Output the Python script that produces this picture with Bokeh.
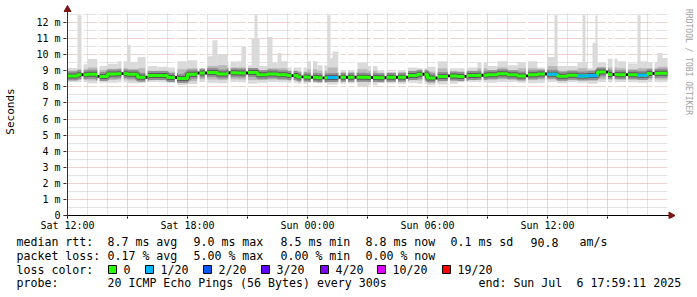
import math
from bokeh.plotting import figure
from bokeh.layouts import column, row
from bokeh.models import Range1d, FixedTicker, ColumnDataSource
from bokeh.core.properties import value
from bokeh.embed import file_html
from bokeh.resources import INLINE

# ---------------- data (hours since Sat 12:00, values in ms) ----------------
bin_hours = 0.5
median = [8.68, 8.75, 8.78, 8.65, 8.80, 8.82, 8.78, 8.60, 8.70, 8.70,
          8.58, 8.52, 8.78, 8.86, 8.90, 8.80, 8.88, 8.86, 8.90, 8.75,
          8.80, 8.75, 8.70, 8.62, 8.60, 8.56, 8.58, 8.60, 8.60, 8.60,
          8.58, 8.57, 8.60, 8.60, 8.70, 8.78, 8.55, 8.65, 8.68, 8.65,
          8.70, 8.72, 8.75, 8.82, 8.75, 8.68, 8.75, 8.80, 8.78, 8.66,
          8.72, 8.68, 8.70, 8.92, 8.77, 8.76, 8.76, 8.72, 8.83, 8.85]
loss = [0, 0, 0, 0, 0, 0, 0, 0, 0, 0,
        0, 0, 0, 0, 0, 0, 0, 0, 0, 0,
        0, 0, 0, 0, 0, 0, 1, 0, 0, 0,
        0, 0, 0, 0, 0, 0, 0, 0, 0, 0,
        0, 0, 0, 0, 0, 0, 0, 0, 1, 0,
        0, 1, 1, 0, 0, 0, 0, 1, 0, 0]
smoke_lo = [8.28, 8.30, 8.22, 8.25, 8.25, 8.28, 8.22, 8.25, 8.30, 8.28,
            8.25, 8.12, 8.18, 8.30, 8.25, 8.22, 8.30, 8.28, 8.20, 8.25,
            8.30, 8.28, 8.25, 8.20, 8.25, 8.22, 8.15, 8.20, 8.22, 8.05,
            8.10, 8.25, 8.22, 8.20, 8.25, 8.20, 8.10, 8.15, 8.20, 8.28,
            8.30, 8.28, 8.25, 8.30, 8.30, 8.25, 8.22, 8.25, 8.30, 8.22,
            8.30, 8.25, 8.20, 8.30, 8.28, 8.30, 8.28, 8.25, 8.30, 8.28]
smoke_q1 = [8.42, 8.45, 8.40, 8.40, 8.42, 8.45, 8.40, 8.38, 8.45, 8.42,
            8.40, 8.30, 8.35, 8.48, 8.45, 8.42, 8.48, 8.45, 8.42, 8.42,
            8.45, 8.42, 8.40, 8.38, 8.38, 8.36, 8.35, 8.38, 8.38, 8.30,
            8.32, 8.38, 8.38, 8.38, 8.42, 8.40, 8.32, 8.35, 8.40, 8.42,
            8.45, 8.45, 8.45, 8.48, 8.45, 8.42, 8.42, 8.45, 8.45, 8.40,
            8.45, 8.42, 8.38, 8.48, 8.45, 8.45, 8.45, 8.42, 8.48, 8.46]
smoke_q3 = [9.02, 9.10, 9.20, 9.05, 9.12, 9.15, 9.10, 9.15, 9.00, 9.00,
            8.95, 9.10, 9.15, 9.05, 9.30, 9.35, 9.20, 9.20, 9.15, 9.05,
            9.15, 9.15, 9.00, 8.95, 9.10, 9.00, 9.20, 8.90, 8.90, 9.10,
            9.00, 8.88, 8.85, 8.90, 9.00, 9.00, 8.95, 9.15, 8.95, 8.95,
            9.00, 9.15, 9.05, 9.20, 9.05, 9.15, 9.15, 9.05, 9.30, 9.00,
            9.05, 9.15, 9.05, 9.20, 9.20, 9.15, 9.10, 9.15, 9.15, 9.25]
smoke_hi = [9.18, 9.40, 9.74, 9.30, 9.43, 9.60, 9.55, 9.85, 9.30, 9.25,
            9.20, 9.60, 9.65, 9.10, 9.90, 10.05, 9.57, 9.60, 9.35, 9.30,
            9.50, 9.60, 9.20, 9.20, 9.60, 9.35, 9.80, 9.05, 9.05, 9.50,
            9.30, 9.05, 8.95, 9.05, 9.20, 9.15, 9.25, 9.60, 9.15, 9.15,
            9.20, 9.50, 9.30, 9.60, 9.35, 9.55, 9.60, 9.20, 9.85, 9.30,
            9.30, 9.55, 9.15, 9.50, 9.75, 9.60, 9.45, 9.60, 9.55, 9.80]
spike_start = [0.50, 3.00, 7.25, 8.70, 9.20, 9.35, 10.00, 10.50, 13.00, 13.25,
               24.35, 25.75, 26.25, 26.40, 28.50, 29.50]
spike_end = [0.75, 3.15, 7.50, 8.95, 9.60, 9.50, 10.25, 10.70, 13.15, 13.55,
             24.50, 25.90, 26.50, 26.50, 28.65, 29.75]
spike_top = [12.45, 10.60, 10.90, 10.50, 11.00, 12.45, 11.10, 10.10, 12.45, 10.20,
             12.45, 12.45, 10.75, 12.45, 12.45, 10.10]
gap_hours = [0.75, 1.55, 2.75, 3.95, 5.42, 6.55, 6.92, 8.10, 8.97, 11.25,
             11.75, 12.22, 12.80, 13.60, 13.97, 14.40, 15.22, 15.90, 16.47, 16.97,
             17.80, 18.45, 19.07, 19.90, 20.75, 22.97, 23.92, 26.97, 27.30, 27.97, 29.30]

x_major_hours = [0, 3, 6, 9, 12, 15, 18, 21, 24, 27]
x_tick_labels = {0: "Sat 12:00", 6: "Sat 18:00", 12: "Sun 00:00",
                 18: "Sun 06:00", 24: "Sun 12:00"}
x_minor_hours = [h for h in range(30) if h % 3 != 0]
y_ticks = [0, 1, 2, 3, 4, 5, 6, 7, 8, 9, 10, 11, 12]
y_tick_labels = ["0", "1 m", "2 m", "3 m", "4 m", "5 m", "6 m", "7 m",
                 "8 m", "9 m", "10 m", "11 m", "12 m"]
loss_levels = [0, 1, 2, 3, 4, 10, 19]
loss_names = ["0", "1/20", "2/20", "3/20", "4/20", "10/20", "19/20"]
loss_colors = ["#26ff00", "#00b8ff", "#0059ff", "#5e00ff", "#7e00ff", "#dd00ff", "#ff0000"]
stats_rtt = ["8.7 ms avg", "9.0 ms max", "8.5 ms min", "8.8 ms now", "0.1 ms sd", "90.8", "am/s"]
stats_loss = ["0.17 % avg", "5.00 % max", "0.00 % min", "0.00 % now"]
probe_text = "20 ICMP Echo Pings (56 Bytes) every 300s"
end_text_a = "end: Sun Jul"
end_text_b = "6 17:59:11 2025"
credit_text = "RRDTOOL / TOBI OETIKER"

# ---------------- layout constants (pixels) ----------------
W, H = 697, 297
CHART_W, CHART_H = 677, 235
GL, GR, GT, GB = 67, 667, 13, 215        # graph area (RRD canvas)
FL, FR, FT, FB = 63, 675, 4, 218         # bokeh frame (room for axes + arrows)
PX_PER_H = 20.0
PX_PER_M = 16.08
FONT = "DejaVu Sans Mono"
AXIS_COL = "#4a2a2a"
ARROW_COL = "#7f1414"


def hx(px):
    return (px - GL) / PX_PER_H


def vy(py):
    return (GB - py) / PX_PER_M


X_END = hx(GR)
Y_TOP = vy(GT)

# ---------------- chart ----------------
p = figure(width=CHART_W, height=CHART_H,
           x_range=Range1d(hx(FL), hx(FR)), y_range=Range1d(vy(FB), vy(FT)),
           output_backend="svg", toolbar_location=None,
           min_border_left=FL, min_border_right=CHART_W - FR, min_border_top=FT,
           min_border_bottom=CHART_H - FB, outline_line_color=None,
           background_fill_color="white", border_fill_color="white")

p.xaxis.ticker = FixedTicker(ticks=x_major_hours, minor_ticks=[])
p.xaxis.major_label_overrides = {t: x_tick_labels.get(t, "") for t in x_major_hours}
p.xaxis.axis_line_color = None
p.xaxis.major_tick_line_color = "black"
p.xaxis.major_tick_out = 0
p.xaxis.major_tick_in = 2
p.xaxis.major_label_standoff = 1
p.xaxis.major_label_text_font = FONT
p.xaxis.major_label_text_font_size = "10px"
p.xaxis.major_label_text_color = "black"

p.yaxis.ticker = FixedTicker(ticks=y_ticks, minor_ticks=[])
p.yaxis.major_label_overrides = {t: l for t, l in zip(y_ticks, y_tick_labels)}
p.yaxis.axis_line_color = None
p.yaxis.major_tick_line_color = AXIS_COL
p.yaxis.major_tick_out = 0
p.yaxis.major_tick_in = 3
p.yaxis.major_label_standoff = 3
p.yaxis.major_label_text_font = FONT
p.yaxis.major_label_text_font_size = "10px"
p.yaxis.major_label_text_color = "black"
p.yaxis.axis_label = "Seconds"
p.yaxis.axis_label_text_font = FONT
p.yaxis.axis_label_text_font_size = "11px"
p.yaxis.axis_label_text_font_style = "normal"
p.yaxis.axis_label_text_color = "black"
p.yaxis.axis_label_standoff = 16

p.xgrid.ticker = FixedTicker(ticks=x_major_hours, minor_ticks=x_minor_hours)
p.ygrid.ticker = FixedTicker(ticks=y_ticks, minor_ticks=[v + 0.5 for v in y_ticks])
for g in (p.xgrid, p.ygrid):
    g.grid_line_color = "#e2a4a4"
    g.grid_line_dash = "1 1"
    g.minor_grid_line_color = "#c8c8c8"
    g.minor_grid_line_dash = "1 1"

# white masks: keep the grid inside the RRD graph area only
x0f, x1f, y0f, y1f = hx(FL), hx(FR), vy(FB), vy(FT)
p.quad(left=[x0f, X_END, x0f, x0f], right=[x1f, x1f, x1f, 0.0],
       bottom=[Y_TOP, y0f, y0f, y0f], top=[y1f, y1f, 0.0, y1f],
       fill_color="white", line_color=None)

n = len(median)
left = [i * bin_hours for i in range(n)]
right = [(i + 1) * bin_hours for i in range(n)]
src = ColumnDataSource(dict(left=left, right=right, lo=smoke_lo, q1=smoke_q1,
                            q3=smoke_q3, hi=smoke_hi))

p.quad(left=spike_start, right=spike_end, bottom=[9.0] * len(spike_top), top=spike_top,
       fill_color="#dadada", line_color=None)
p.quad(left="left", right="right", bottom="lo", top="hi", source=src,
       fill_color="#dadada", line_color=None)
p.quad(left="left", right="right", bottom="q1", top="q3", source=src,
       fill_color="#b9b9b9", line_color=None)

edges = left + [right[-1]]
med_ext = median + [median[-1]]
p.step(edges, med_ext, mode="after", line_color="#909090", line_width=9)
p.step(edges, med_ext, mode="after", line_color="#5a5a5a", line_width=5)
p.step(edges, med_ext, mode="after", line_color=loss_colors[0], line_width=3)

lossy = [i for i in range(n) if loss[i] > 0]
p.quad(left=[left[i] for i in lossy], right=[right[i] for i in lossy],
       bottom=[median[i] - 0.095 for i in lossy], top=[median[i] + 0.095 for i in lossy],
       fill_color=[loss_colors[loss_levels.index(loss[i])] for i in lossy], line_color=None)

gw = 0.05
gap_med = [median[int(g // bin_hours)] for g in gap_hours]
p.quad(left=[g - gw for g in gap_hours], right=[g + gw for g in gap_hours],
       bottom=[7.9] * len(gap_hours), top=[12.6] * len(gap_hours),
       fill_color="white", line_color=None)
p.quad(left=[g - gw for g in gap_hours], right=[g + gw for g in gap_hours],
       bottom=[m - 0.09 for m in gap_med], top=[m + 0.09 for m in gap_med],
       fill_color="black", line_color=None)

# axis lines and arrow heads
p.segment(x0=[hx(63)], y0=[0], x1=[hx(670)], y1=[0], line_color="black", line_width=1)
p.segment(x0=[0], y0=[vy(218)], x1=[0], y1=[vy(9)], line_color=AXIS_COL, line_width=1)
p.scatter(x=[0], y=[vy(9)], marker="triangle", size=7,
          fill_color=ARROW_COL, line_color=ARROW_COL)
p.scatter(x=[hx(670.5)], y=[0], marker="triangle", size=7, angle=-math.pi / 2,
          fill_color=ARROW_COL, line_color=ARROW_COL)

# ---------------- credit strip (right) ----------------
cw = W - CHART_W
credit = figure(width=cw, height=CHART_H, x_range=Range1d(0, cw), y_range=Range1d(CHART_H, 0),
                output_backend="svg", toolbar_location=None, min_border=0,
                x_axis_location=None, y_axis_location=None, outline_line_color=None,
                background_fill_color="white", border_fill_color="white")
credit.grid.visible = False
credit.text(x=[688 - CHART_W], y=[5], text=[credit_text], angle=-math.pi / 2,
            text_align="left", text_baseline="middle", text_font=value(FONT),
            text_font_size=value("8px"), text_color="#a0a0a0")

# ---------------- legend block (bottom) ----------------
LEG_H = H - CHART_H
leg = figure(width=W, height=LEG_H, x_range=Range1d(0, W), y_range=Range1d(H, CHART_H),
             output_backend="svg", toolbar_location=None, min_border=0,
             x_axis_location=None, y_axis_location=None, outline_line_color=None,
             background_fill_color="white", border_fill_color="white")
leg.grid.visible = False

row_y = [241.5, 255.2, 269, 282.7]
tx, ty, tt = [], [], []


def txt(px, py, s):
    tx.append(px)
    ty.append(py)
    tt.append(s)


txt(16, row_y[0], "median rtt:")
for px, s in zip([107, 193, 280, 365, 450, 530, 579], stats_rtt):
    txt(px, row_y[0], s)
txt(16, row_y[1], "packet loss:")
for px, s in zip([107, 193, 280, 365], stats_loss):
    txt(px, row_y[1], s)
txt(16, row_y[2], "loss color:")
box_px = [108, 145, 203, 261, 320, 377, 442]
for px, name in zip(box_px, loss_names):
    txt(px + 15, row_y[2], name)
txt(16, row_y[3], "probe:")
txt(107, row_y[3], probe_text)
txt(478, row_y[3], end_text_a)
txt(576, row_y[3], end_text_b)

leg.quad(left=box_px, right=[b + 8 for b in box_px], top=[265] * len(box_px),
         bottom=[273] * len(box_px), fill_color=loss_colors, line_color="black", line_width=1)
leg.text(x=tx, y=ty, text=tt, text_align="left", text_baseline="middle",
         text_font=value(FONT), text_font_size=value("11.6px"), text_color="black")

layout = column(row(p, credit, spacing=0), leg, spacing=0)
open("out.html", "w").write(file_html(layout, INLINE))
